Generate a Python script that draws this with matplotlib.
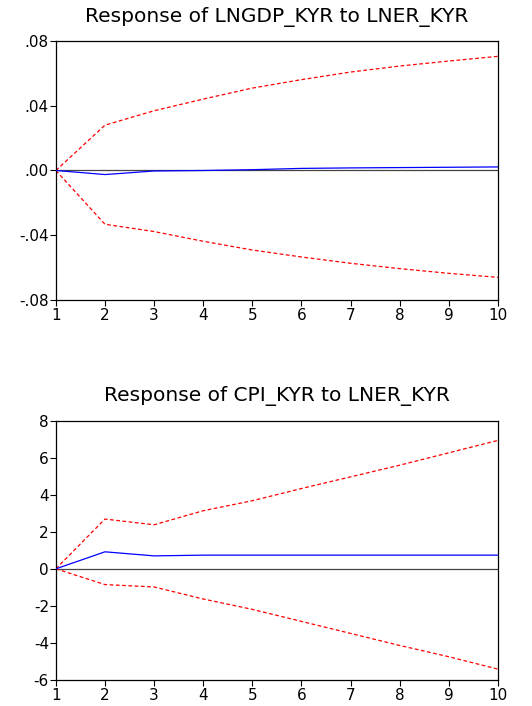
import matplotlib
matplotlib.use("Agg")
import matplotlib.pyplot as plt
from matplotlib.ticker import FuncFormatter

plt.rcParams['font.family'] = ['DejaVu Sans']
plt.rcParams['axes.unicode_minus'] = False

periods = [1, 2, 3, 4, 5, 6, 7, 8, 9, 10]

# response of LNGDP_KYR to LNER_KYR
gdp_resp = [0.0, -0.0025, -0.0003, 0.0, 0.0005, 0.0013, 0.0016, 0.0018, 0.002, 0.0022]
gdp_upper = [0.0, 0.028, 0.0369, 0.0441, 0.0509, 0.0561, 0.0608, 0.0645, 0.0676, 0.0705]
gdp_lower = [0.0, -0.0332, -0.0377, -0.0437, -0.0491, -0.0534, -0.0573, -0.0606, -0.0635, -0.066]

# response of CPI_KYR to LNER_KYR
cpi_resp = [0.0, 0.92, 0.70, 0.74, 0.74, 0.74, 0.74, 0.74, 0.74, 0.74]
cpi_upper = [0.0, 2.69, 2.38, 3.14, 3.68, 4.34, 4.97, 5.6, 6.27, 6.94]
cpi_lower = [0.0, -0.85, -0.98, -1.63, -2.19, -2.84, -3.49, -4.14, -4.75, -5.42]

gdp_ticks = [-0.08, -0.04, 0.0, 0.04, 0.08]
cpi_ticks = [-6, -4, -2, 0, 2, 4, 6, 8]


def eviews_fmt(v, pos):
    s = "%.2f" % v
    s = s.replace("0.", ".")
    if s == "-.00":
        s = ".00"
    return s


fig = plt.figure(figsize=(5.32, 7.06), dpi=100)
ax1 = fig.add_axes([0.105, 0.575, 0.831, 0.367])
ax2 = fig.add_axes([0.105, 0.037, 0.831, 0.367])

panels = [
    (ax1, gdp_resp, gdp_upper, gdp_lower, gdp_ticks, "Response of LNGDP_KYR to LNER_KYR"),
    (ax2, cpi_resp, cpi_upper, cpi_lower, cpi_ticks, "Response of CPI_KYR to LNER_KYR"),
]

for ax, resp, up, lo, ticks, title in panels:
    ax.axhline(0, color="#444444", lw=0.9, zorder=1)
    ax.plot(periods, up, color="red", lw=0.9, ls=(0, (3, 2)), zorder=2)
    ax.plot(periods, lo, color="red", lw=0.9, ls=(0, (3, 2)), zorder=2)
    ax.plot(periods, resp, color="blue", lw=0.9, zorder=3)
    ax.set_xlim(1, 10)
    ax.set_ylim(ticks[0], ticks[-1])
    ax.set_xticks(periods)
    ax.set_yticks(ticks)
    ax.tick_params(direction="out", length=4, width=0.8, labelsize=11, pad=1)
    ax.tick_params(axis="x", pad=2)
    for sp in ax.spines.values():
        sp.set_linewidth(0.9)
    ax.set_title(title, fontsize=14.5, pad=14)

ax1.yaxis.set_major_formatter(FuncFormatter(eviews_fmt))

fig.savefig("out.png", dpi=100)
